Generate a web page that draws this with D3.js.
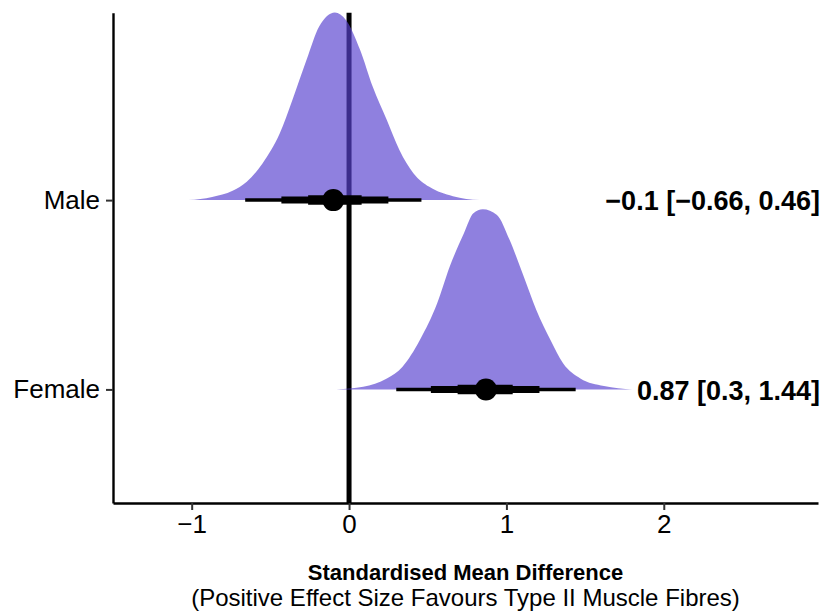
<!DOCTYPE html>
<html>
<head>
<meta charset="utf-8">
<script src="https://cdn.jsdelivr.net/npm/d3@7"></script>
<style>
	body { margin: 0; background: #fff; }
	svg { display: block; font-family: 'Liberation Sans', Arial, Helvetica, sans-serif; }
</style>
</head>
<body>
<svg id="chart" width="824" height="611"></svg>
<script>
// groups bottom to top
const groups = ['Female', 'Male'];
const xTicks = [-1, 0, 1, 2];

// posterior slabs, heights (1 = one category step)
const maleX = [-1.02, -0.87, -0.74, -0.65, -0.55, -0.44, -0.36, -0.27, -0.19, -0.09, -0.02, 0.07, 0.15, 0.24, 0.32, 0.41, 0.51, 0.66, 0.83];
const maleDensity = [0, 0.017, 0.049, 0.097, 0.194, 0.353, 0.529, 0.741, 0.917, 0.991, 0.952, 0.794, 0.600, 0.423, 0.265, 0.141, 0.070, 0.021, 0];
const femaleX = [-0.08, 0.09, 0.24, 0.34, 0.45, 0.56, 0.64, 0.73, 0.79, 0.85, 0.94, 1.02, 1.11, 1.19, 1.28, 1.36, 1.47, 1.62, 1.80];
const femaleDensity = [0, 0.014, 0.058, 0.12, 0.261, 0.455, 0.649, 0.825, 0.931, 0.952, 0.922, 0.79, 0.596, 0.42, 0.261, 0.138, 0.058, 0.018, 0];

// Female, Male
const pointEstimates = [0.87, -0.1];
const ci95 = [[0.3, 1.44], [-0.66, 0.46]];
const ci80 = [[0.52, 1.21], [-0.43, 0.25]];
const ci50 = [[0.69, 1.04], [-0.26, 0.08]];
const estimateLabels = ['0.87 [0.3, 1.44]', '\u22120.1 [\u22120.66, 0.46]'];

const svg = d3.select('#chart');
const width = 824;
const height = 611;

const x = d3.scaleLinear().domain([-1.5, 2.98]).range([113, 818]);
const y = d3.scaleLinear().domain([0.4, 2.99]).range([503, 12.7]);

const slabs = [
	{ group: 'Female', pos: 1, pts: femaleX.map((v, i) => [v, femaleDensity[i]]) },
	{ group: 'Male', pos: 2, pts: maleX.map((v, i) => [v, maleDensity[i]]) },
];

const intervals = groups.map((g, i) => ({
	group: g,
	pos: i + 1,
	point: pointEstimates[i],
	widths: [
		{ lo: ci95[i][0], hi: ci95[i][1], size: 3.5 },
		{ lo: ci80[i][0], hi: ci80[i][1], size: 7 },
		{ lo: ci50[i][0], hi: ci50[i][1], size: 9.5 },
	],
}));

svg.append('rect')
	.attr('width', width)
	.attr('height', height)
	.attr('fill', '#fff');

// zero reference line
svg.append('line')
	.attr('x1', x(0))
	.attr('x2', x(0))
	.attr('y1', y.range()[1])
	.attr('y2', y.range()[0])
	.attr('stroke', '#000')
	.attr('stroke-width', 5);

const area = d3.area()
	.x(d => x(d[0]))
	.y1(d => d[1])
	.y0(d => d[2])
	.curve(d3.curveMonotoneX);

svg.append('g')
	.selectAll('path')
	.data(slabs)
	.join('path')
	.attr('d', s => area(s.pts.map(p => [p[0], y(s.pos + p[1]), y(s.pos)])))
	.attr('fill', 'rgb(89, 67, 207)')
	.attr('fill-opacity', 0.675);

const iv = svg.append('g')
	.selectAll('g')
	.data(intervals)
	.join('g');

iv.selectAll('line')
	.data(d => d.widths.map(w => ({ ...w, pos: d.pos })))
	.join('line')
	.attr('x1', d => x(d.lo))
	.attr('x2', d => x(d.hi))
	.attr('y1', d => y(d.pos))
	.attr('y2', d => y(d.pos))
	.attr('stroke', '#000')
	.attr('stroke-width', d => d.size);

iv.append('circle')
	.attr('cx', d => x(d.point))
	.attr('cy', d => y(d.pos))
	.attr('r', 11)
	.attr('fill', '#000');

svg.append('g')
	.selectAll('text')
	.data(intervals)
	.join('text')
	.attr('x', 820)
	.attr('y', d => y(d.pos))
	.attr('dy', '0.38em')
	.attr('text-anchor', 'end')
	.attr('font-size', 27)
	.attr('font-weight', 700)
	.attr('fill', '#000')
	.text((d, i) => estimateLabels[i]);

// axes
const xAxis = svg.append('g')
	.attr('transform', `translate(0, ${y.range()[0]})`)
	.call(d3.axisBottom(x).tickValues(xTicks).tickFormat(d3.format('d')).tickSize(7).tickSizeOuter(0).tickPadding(5));

const yAxis = svg.append('g')
	.attr('transform', `translate(${x.range()[0]}, 0)`)
	.call(d3.axisLeft(y).tickValues([1, 2]).tickFormat(d => groups[d - 1]).tickSize(7).tickSizeOuter(0).tickPadding(6));

[xAxis, yAxis].forEach(a => {
	a.select('.domain').attr('stroke', '#000').attr('stroke-width', 2.4);
	a.selectAll('.tick line').attr('stroke', '#333').attr('stroke-width', 2);
	a.selectAll('.tick text')
		.attr('fill', '#000')
		.attr('font-size', 26)
		.attr('font-family', "'Liberation Sans', Arial, sans-serif");
});

svg.append('text')
	.attr('x', (x.range()[0] + x.range()[1]) / 2)
	.attr('y', 580)
	.attr('text-anchor', 'middle')
	.attr('font-size', 22)
	.attr('font-weight', 700)
	.text('Standardised Mean Difference');

svg.append('text')
	.attr('x', (x.range()[0] + x.range()[1]) / 2)
	.attr('y', 606)
	.attr('text-anchor', 'middle')
	.attr('font-size', 24)
	.text('(Positive Effect Size Favours Type II Muscle Fibres)');
</script>
</body>
</html>
